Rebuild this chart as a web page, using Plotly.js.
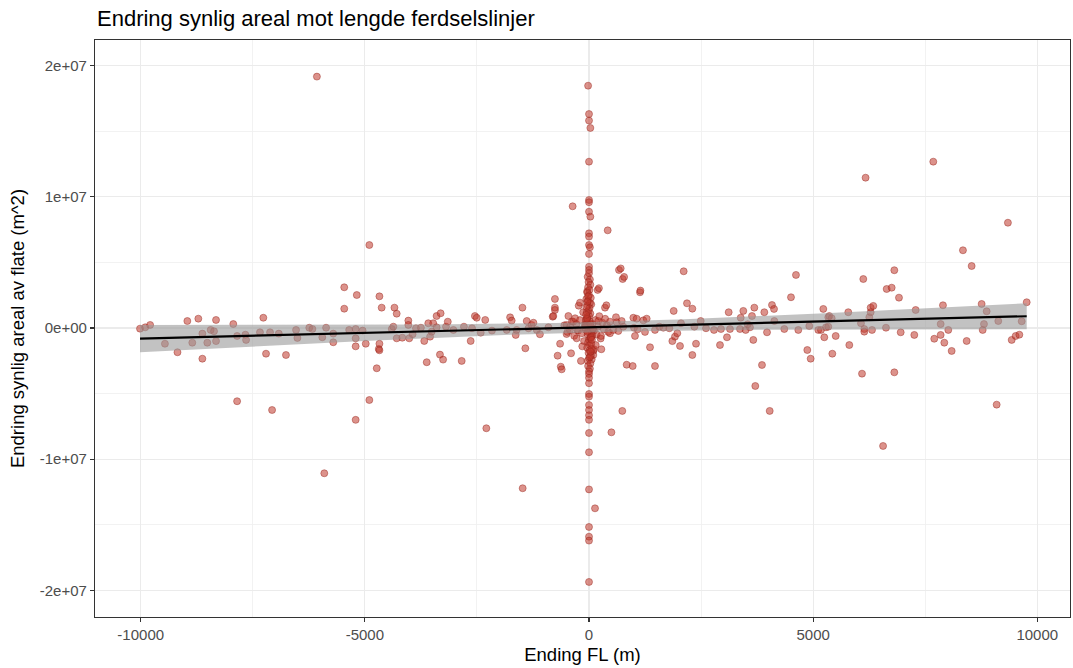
<!DOCTYPE html>
<html>
<head>
<meta charset="utf-8">
<script src="https://cdn.plot.ly/plotly-3.0.1.min.js"></script>
<style>html,body{margin:0;padding:0;background:#fff;}#chart{width:1073px;height:668px;}</style>
</head>
<body>
<div id="chart"></div>
<script>
// ---------- data ----------
// Ending FL (m) and Endring synlig areal (m^2), pairs in the same order
const flLeft = [-10016,-9900,-9790,-9460,-9180,-8960,-8850,-8715,-8625,-8625,-8515,-8440,-8365,-8320,-8320,-7935,-7850,-7850,-7665,-7650,-7340,-7265,-7205,-7115,-7070,-6920,-6760,-6535,-6505,-6240,-6170,-6070,-5950,-5905,-5865,-5705,-5705,-5460,-5460,-5350];
const arLeft = [-5e4,5e4,2.3e5,-1.2e6,-1.85e6,5.3e5,-1.12e6,7.1e5,-4.3e5,-2.34e6,-1.12e6,-1.5e5,-2.5e5,6.1e5,-1.0e6,3.0e5,-6.1e5,-5.58e6,-5.1e5,-9.1e5,-3.3e5,7.8e5,-1.96e6,-3.3e5,-6.25e6,-4.3e5,-2.06e6,-1.5e5,-7.6e5,2e4,-8e4,1.915e7,-7.1e5,-1.107e7,2e4,-4.3e5,-1.09e6,1.47e6,3.1e6,-1.5e5];

const flMidL = [-5205,-5205,-5205,-5205,-5180,-5050,-4980,-4900,-4900,-4735,-4690,-4675,-4675,-4675,-4625,-4400,-4365,-4340,-4290,-4290,-4165,-4030,-4030,-4010,-3935,-3860,-3750,-3675,-3620,-3585,-3545,-3510,-3475,-3400,-3400,-3325,-3310,-3255,-3190,-3150,-3025,-2840,-2790,-2640,-2610,-2545,-2505,-2415,-2315,-2290,-2165,-1835,-1760,-1725,-1635,-1615,-1485,-1480,-1420,-1390,-1350,-1280,-1240,-1165,-1095,-905,-810,-796,-760,-760,-760,-700,-645,-630,-610];
const arMidL = [-8e4,-7.9e5,-1.4e6,-7.0e6,2.51e6,-2e5,-1.2e6,6.32e6,-5.49e6,-3.07e6,-1.6e6,2.41e6,-1.2e6,-1.7e6,1.55e6,-8e4,1e5,1.55e6,1.09e6,-7.9e5,-7.4e5,5.6e5,2.3e5,-7.9e5,-4.8e5,-2e4,2e4,-9.9e5,-2.61e6,3.6e5,-6.6e5,-2.8e5,3.6e5,9.1e5,5e4,-2.03e6,1.12e6,-2.41e6,1e5,4.8e5,-1.5e5,-2.51e6,1e5,-9.9e5,-2e4,9.1e5,7.8e5,-3.6e5,6.1e5,-7.64e6,-2e5,-1.5e5,8.1e5,5.6e5,-5.3e5,-1.5e5,1.55e6,-1.221e7,-1.55e6,5.3e5,-2e4,2.3e5,4e5,-1.5e5,-4.8e5,5e4,8.6e5,9.1e5,2.21e6,1.55e6,1.37e6,-2.11e6,-1.2e6,-2.95e6,-3.15e6];

const flNear = [-550,-500,-500,-480,-460,-425,-420,-400,-380,-365,-350,-330,-310,-280,-275,-260,-240,-230,-200,-200,-180,-160,-150,-130,-110,-90,-70,-60,-40,50,60,80,96,100,110,112,140,150,170,193,200,208,221,230,260,268,275,300,330,357,360,388,400,417,430,468,468,500,543];
const arNear = [2e5,2.3e5,-4.6e5,-3e5,9.1e5,-1.5e5,1e5,-1.93e6,5e5,9.27e6,4.8e5,-6e5,7.4e5,3e5,-7.9e5,-1.5e5,-2e5,1.7e6,1.93e6,6e5,-2.51e6,-4e5,-1.4e6,1.2e6,-1.0e6,2.5e5,-1.5e5,2.2e6,2.8e6,1.8e6,-2.4e6,3e5,-2.06e6,-1.73e6,-2e5,-1.62e6,6e5,-1.3e6,-5e5,2.9e6,1e5,5.3e5,3.03e6,9e5,-8e5,-6.1e5,-1.62e6,4e5,-1e5,1.55e6,7e5,1.73e6,2e5,7.44e6,-3e5,4.8e5,-4e5,-7.95e6,-1.5e5];

// dense column at Ending FL = 0
const flZero = [-20,0,0,30,0,0,0,0,30,0,0,0,20,0,0,0,0,
  -30,20,-10,30,-20,10,-40,0,40,-20,20,-30,10,-10,30,0,-40,20,-20,40,-10,10,-30,30,0,-20,20,-40,10,-10,40,0,-30,30,-20,20,
  -50,50,-60,60,-70,70,-40,40,-80,80,-50,50,-30,30,-60,60,-90,90,-20,20,-45,45,-65,65,-35,35,
  0,0,0,0,0,0,0,0,0,0,0,0,0,0,0,0,0,134];
const arZero = [1.846e7,1.63e7,1.58e7,1.524e7,1.267e7,9.75e6,9.58e6,8.86e6,8.48e6,7.21e6,6.96e6,6.32e6,6.15e6,5.64e6,4.67e6,4.42e6,4.17e6,
  3.9e6,3.7e6,3.5e6,3.3e6,3.1e6,2.9e6,2.7e6,2.5e6,2.3e6,2.1e6,1.9e6,1.7e6,1.5e6,1.3e6,1.1e6,9e5,7e5,5e5,3e5,1e5,-1e5,-3e5,-5e5,-7e5,-9e5,-1.1e6,-1.3e6,-1.5e6,-1.7e6,-1.9e6,-2.1e6,-2.3e6,-2.5e6,-2.7e6,-2.9e6,-3.1e6,
  4e5,-2e5,1.5e5,-4e5,6e5,-6e5,8e5,-8e5,2e5,-1e5,1.2e6,-1.2e6,-3e5,3e5,1.6e6,-1.6e6,5e4,-5e4,2.4e6,-2.2e6,7e5,-7e5,1e6,-9e5,2e6,-1.8e6,
  -3.3e6,-3.5e6,-3.8e6,-4.21e6,-5.03e6,-5.23e6,-5.87e6,-6.25e6,-6.65e6,-7.0e6,-8.0e6,-9.47e6,-1.23e7,-1.516e7,-1.59e7,-1.62e7,-1.935e7,-1.374e7];

const flRight = [602,617,654,669,707,729,743,751,765,783,840,975,989,1004,1026,1063,1086,1138,1147,1212,1249,1287,1361,1472,1472,1569,1658,1792,1859,1889,1918,1970,2030,2052,2112,2186,2305,2305,2350,2387,2492,2610,2788,2922,2944,3078,3116,3145,3368,3384,3442,3495,3540,3591,3636,3665,3688,3710,3859,3911,3971,4031,4082,4127,4134,4357,4506,4617,4669,4870,4914,4945,5115,5175,5227,5249,5287,5338,5338,5360,5414,5428,5503,5784,5807,6067,6090,6119,6141,6141,6170,6253,6283,6283,6313,6342,6560,6625,6640,6752,6811,6811,6915,6953,7257,7287,7680,7702,7845,7845,7896,7926,8015,8090,8342,8425,8536,8759,8782,8811,8871,9094,9130,9345,9429,9518,9600,9652,9764];
const arRight = [8.2e5,4.3e5,-2.3e5,4.42e6,4.54e6,5.3e5,-6.32e6,3.73e6,1e5,3.89e6,-2.8e6,-2.9e6,7.8e5,2e4,-6.1e5,7.1e5,-1e5,2.72e6,2.85e6,5.8e5,-3e5,7.1e5,-1.47e6,-2.9e6,-1.5e5,1e5,2e4,-2e4,-1.0e6,1.3e6,-6.6e5,-4e5,-1.37e6,3.6e5,4.32e6,1.88e6,1.47e6,-2.06e6,1e5,-1.2e6,5.3e5,-2e4,-1.5e5,-1.3e6,-8e4,-7.1e5,1.2e6,-8e4,-8e4,7.8e5,1.3e6,-1.5e5,2.8e5,5e4,9.1e5,-9.1e5,1.55e6,-4.42e6,-2.82e6,1.2e6,-3.3e5,-6.32e6,1.75e6,1.45e6,5.3e5,-8e4,2.34e6,4.04e6,-1.5e5,-1.68e6,1.5e5,-2.34e6,-1.5e5,-1.5e5,1.45e6,-7.1e5,5e4,1e5,8.2e5,9.1e5,7.4e5,-1.96e6,-6.1e5,1.2e6,-1.3e6,3.6e5,-3.48e6,3.73e6,-8e4,-2.8e5,1.145e7,8.2e5,1.2e6,1.55e6,-1.5e5,1.68e6,-8.99e6,2e4,2.97e6,3.07e6,4.4e6,-3.38e6,2.31e6,-3.3e5,-5.3e5,1.37e6,1.267e7,-8.2e5,3e5,-5.3e5,1.73e6,-1.12e6,-1.5e5,-1.75e6,5.92e6,-9.9e5,4.72e6,1.83e6,-1.5e5,3e5,1.27e6,-5.84e6,5.3e5,8.02e6,-9.1e5,-6.1e5,-5.1e5,5.1e5,1.96e6];

// axis ticks
const xTickVals = [-10000,-5000,0,5000,10000];
const xTickText = ['-10000','-5000','0','5000','10000'];
const yTickVals = [2e7,1e7,0,-1e7,-2e7];
const yTickText = ['2e+07','1e+07','0e+00','-1e+07','-2e+07'];

// ---------- linear fit (lm) with 95% confidence band ----------
const X = [].concat(flLeft, flMidL, flNear, flZero, flRight);
const Y = [].concat(arLeft, arMidL, arNear, arZero, arRight);
const n = X.length;
const xm = X.reduce((a,b)=>a+b,0)/n, ym = Y.reduce((a,b)=>a+b,0)/n;
let sxx=0, sxy=0;
for (let i=0;i<n;i++){ sxx+=(X[i]-xm)**2; sxy+=(X[i]-xm)*(Y[i]-ym); }
const b1 = sxy/sxx, b0 = ym - b1*xm;
let sse=0; for (let i=0;i<n;i++){ sse+=(Y[i]-b0-b1*X[i])**2; }
const s = Math.sqrt(sse/(n-2)), tq = 1.966;
const xmin = Math.min(...X), xmax = Math.max(...X);
const gx=[], gy=[], lo=[], hi=[];
for (let k=0;k<80;k++){
  const xv = xmin + (xmax-xmin)*k/79;
  const f = b0 + b1*xv;
  const se = s*Math.sqrt(1/n + (xv-xm)**2/sxx);
  gx.push(xv); gy.push(f); lo.push(f - tq*se); hi.push(f + tq*se);
}

const traces = [
  {x: X, y: Y, type:'scatter', mode:'markers', hoverinfo:'skip',
   marker:{size:7, color:'rgba(192,57,43,0.55)', line:{color:'rgba(150,35,25,0.55)', width:0.8}}},
  {x: gx.concat(gx.slice().reverse()), y: hi.concat(lo.slice().reverse()), type:'scatter', mode:'lines',
   fill:'toself', fillcolor:'rgba(153,153,153,0.6)', line:{width:0}, hoverinfo:'skip'},
  {x: gx, y: gy, type:'scatter', mode:'lines', line:{color:'#000000', width:2.2}, hoverinfo:'skip'}
];

const axisCommon = {
  showline:true, mirror:true, linecolor:'#333333', linewidth:1.1,
  ticks:'outside', ticklen:4, tickwidth:1.1, tickcolor:'#333333',
  showgrid:true, gridcolor:'#EBEBEB', gridwidth:1.2, zeroline:false,
  tickfont:{family:'Liberation Sans, Arial, sans-serif', size:15, color:'#4D4D4D'}
};

const layout = {
  width:1073, height:668,
  margin:{l:95, r:3, t:40, b:51, pad:0},
  paper_bgcolor:'#ffffff', plot_bgcolor:'#ffffff',
  showlegend:false,
  font:{family:'Liberation Sans, Arial, sans-serif', color:'#000000'},
  title:{text:'Endring synlig areal mot lengde ferdselslinjer', xref:'container', yref:'container',
         x:97/1073, xanchor:'left', y:1-18/668, yanchor:'middle',
         font:{family:'Liberation Sans, Arial, sans-serif', size:22, color:'#000000'}},
  xaxis: Object.assign({}, axisCommon, {
    range:[-11020,10730], tickmode:'array', tickvals:xTickVals, ticktext:xTickText,
    minor:{tickvals:[-7500,-2500,2500,7500], showgrid:true, gridcolor:'#EFEFEF', gridwidth:0.8, ticks:''},
    title:{text:'Ending FL (m)', standoff:6, font:{family:'Liberation Sans, Arial, sans-serif', size:18.5, color:'#000000'}}
  }),
  yaxis: Object.assign({}, axisCommon, {
    range:[-2.202e7,2.194e7], tickmode:'array', tickvals:yTickVals, ticktext:yTickText,
    minor:{tickvals:[1.5e7,5e6,-5e6,-1.5e7], showgrid:true, gridcolor:'#EFEFEF', gridwidth:0.8, ticks:''},
    title:{text:'Endring synlig areal av flate (m^2)', standoff:10, font:{family:'Liberation Sans, Arial, sans-serif', size:18.5, color:'#000000'}}
  })
};

Plotly.newPlot('chart', traces, layout, {displayModeBar:false, staticPlot:true});
</script>
</body>
</html>
